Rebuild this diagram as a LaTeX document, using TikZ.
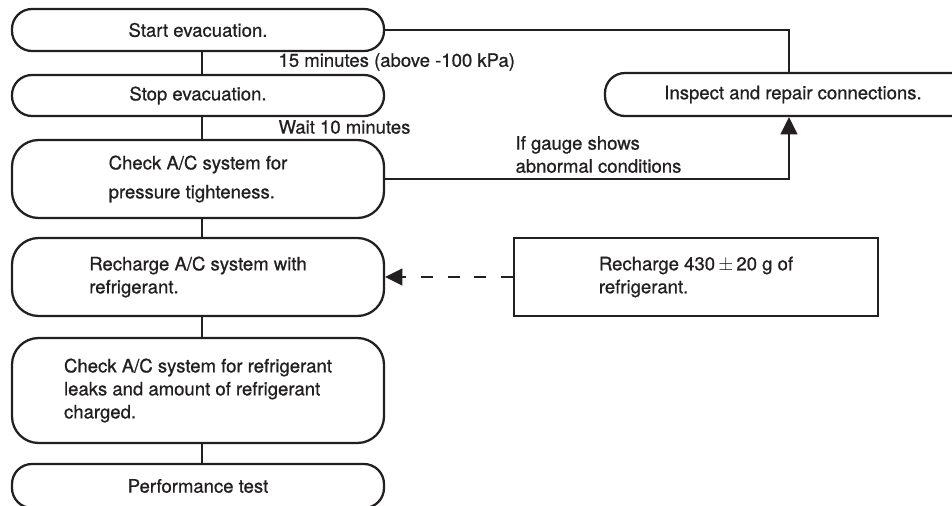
\documentclass[tikz,border=0pt]{standalone}
\usepackage{fontspec}
\setmainfont{TeX Gyre Heros}[FakeBold=0.8]
\usetikzlibrary{arrows.meta}
\definecolor{ink}{RGB}{35,31,32}
\tikzset{every picture/.style={line width=1.7pt}}
\tikzset{
  stadium/.style={draw=ink, rounded corners=15pt, minimum width=279pt, minimum height=31.5pt, inner sep=0pt, align=center},
  tallbox/.style={draw=ink, rounded corners=20pt, minimum width=279pt, inner sep=0pt, align=left},
  notebox/.style={draw=ink, minimum width=273pt, minimum height=58.5pt, inner sep=0pt, align=left},
  tip/.style={-{Triangle[length=13pt,width=12.5pt]}}
}

\begin{document}
\begin{tikzpicture}[x=0.75pt,y=0.75pt,yscale=-1,xscale=1,
  every node/.style={text=ink, font=\fontsize{13.9pt}{17.25pt}\selectfont}]
\useasboundingbox (0,0) rectangle (952,506);

% spine of the main chain and of the repair loop
\coordinate (spine) at (202,0);
\coordinate (loop) at (789,0);

% Main steps
\node (start) at (198,30) [stadium] {Start evacuation.};
\node (stop) at (198,95.5) [stadium, minimum height=30.75pt] {Stop evacuation.};
\node (checkp) at (198,179) [tallbox, minimum height=58.5pt] {Check A/C system for\\[4.5pt]pressure tighteness.};
\node (recharge) at (198,277) [tallbox, minimum height=58.5pt] {Recharge A/C system with\\refrigerant.};
\node (leaks) at (198,390.5) [tallbox, minimum height=78.75pt] {Check A/C system for refrigerant\\leaks and amount of refrigerant\\charged.};
\node (perf) at (198,486) [stadium, minimum height=33pt] {Performance test};

% Side steps
\node (inspect) at (793,94.5) [stadium, minimum width=282pt, minimum height=32.25pt] {Inspect and repair connections.};
\node (amount) at (696,277) [notebox] {Recharge 430$\,\pm\,$20 g of\\refrigerant.};

% Text Node
\node (wait15) at (273,62) [anchor=west] {15 minutes (above -100 kPa)};
% Text Node
\node (wait10) at (273,127) [anchor=west] {Wait 10 minutes};
% Text Node
\node (abnormal) at (510,154.5) [anchor=west, align=left] {If gauge shows\\abnormal conditions};

% Straight Lines
\draw [ink] (start.south -| spine) -- (stop.north -| spine);
\draw [ink] (stop.south -| spine) -- (checkp.north -| spine);
\draw [ink] (checkp.south -| spine) -- (recharge.north -| spine);
\draw [ink] (recharge.south -| spine) -- (leaks.north -| spine);
\draw [ink] (leaks.south -| spine) -- (perf.north -| spine);
% repair loop
\draw [ink] (start.east) -| (loop |- inspect.north);
\draw [ink, tip] (checkp.east) -| (loop |- inspect.south);
% dashed feed
\draw [ink, tip, dash pattern=on 9pt off 11pt] (amount.west) -- (recharge.east);

\end{tikzpicture}
\end{document}
